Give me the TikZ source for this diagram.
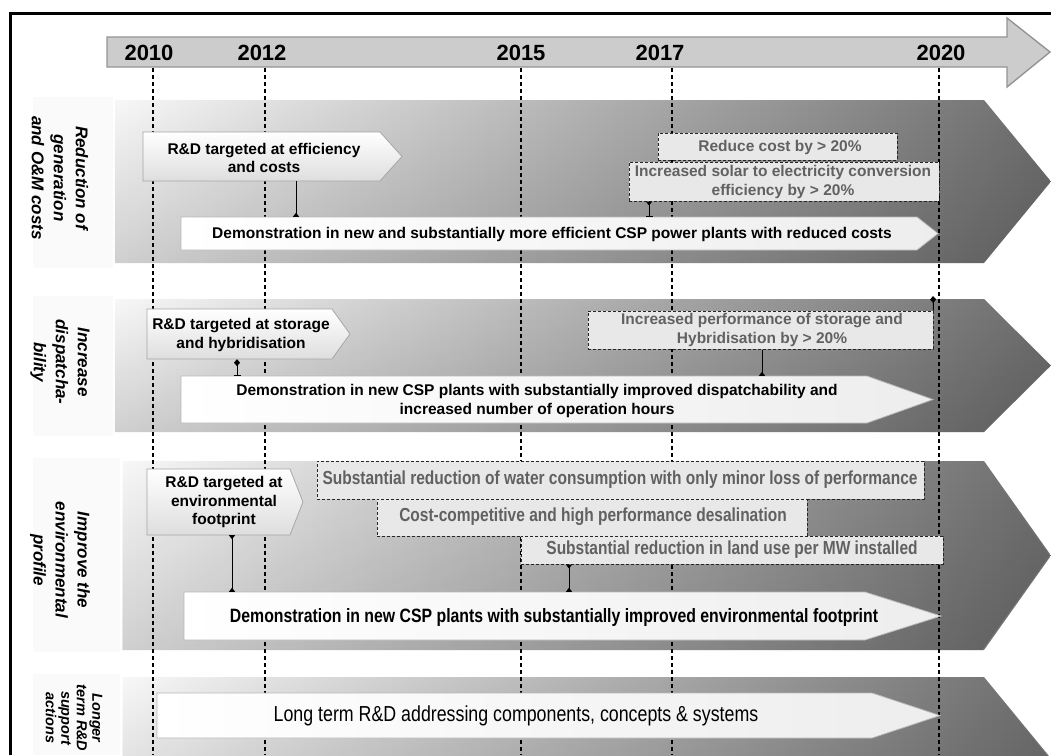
\documentclass[tikz,border=0pt]{standalone}
\usepackage{fontspec}
\setmainfont{Liberation Sans}
\newfontfamily\narrowsf[FakeStretch=0.82]{Liberation Sans}
\usetikzlibrary{arrows.meta,fadings,fit}

% pentagon arrow: name, style, left, top, body end, tip x, bottom
\newcommand\shapedarrow[7]{%
  \path[#2] (#3,#4) -- (#5,#4) -- (#6,{(#4+#7)/2}) -- (#5,#7) -- (#3,#7) -- cycle;
  \node[fit={(#3,#4) (#5,#7)},inner sep=0pt] (#1) {};}

\begin{document}
\begin{tikzpicture}[x=1pt,y=-1pt,
  frame/.style={line width=3pt,black},
  lblbg/.style={fill=black!2},
  band/.style={left color=black!3,middle color=black!19,right color=black!57,
    postaction={fill=black,fill opacity=0.16,path fading=north}},
  timeline/.style={fill=black!20,draw=black!42,line width=1.4pt},
  yearlbl/.style={font=\bfseries\fontsize{22}{24}\selectfont,inner sep=0pt},
  yearline/.style={black,line width=1.3pt,dash pattern=on 4pt off 3pt},
  rdbox/.style={top color=white,bottom color=black!13,draw=black!35,line width=0.8pt},
  demobox/.style={left color=white,right color=black!7,draw=black!28,line width=0.8pt},
  goalbox/.style={draw=black!85,fill=black!9,line width=1pt,dash pattern=on 3pt off 2pt,inner sep=0pt},
  rdtext/.style={font=\bfseries\fontsize{15.5}{18.5}\selectfont,align=center,inner sep=0pt},
  goaltext/.style={font=\bfseries\fontsize{15.5}{18.5}\selectfont,align=center,inner sep=0pt,text=black!62},
  goalnarrow/.style={font=\narrowsf\bfseries\fontsize{18.9}{20}\selectfont,inner sep=0pt,text=black!62},
  demotext/.style={font=\bfseries\fontsize{15.5}{18.5}\selectfont,align=center,inner sep=0pt},
  demonarrow/.style={font=\narrowsf\bfseries\fontsize{19.3}{22}\selectfont,inner sep=0pt},
  longtext/.style={font=\narrowsf\fontsize{21.7}{24}\selectfont,inner sep=0pt},
  rowlbl/.style={font=\bfseries\itshape\fontsize{17}{22}\selectfont,align=center,rotate=-90,inner sep=0pt},
  conn/.style={black,line width=1pt},
  tri/.style={-{Triangle[reversed,width=6pt,length=4pt]}},
]
\useasboundingbox (0,0) rectangle (1051,755);
\begin{scope}
\clip (0,0) rectangle (1051,755);

% frame
\draw[frame] (10,755) -- (10,13) -- (1051,13);

% pale panels behind the row titles
\fill[lblbg] (33,97) rectangle (113,268);
\fill[lblbg] (33,296) rectangle (113,436);
\fill[lblbg] (33,458) rectangle (120,652);
\fill[lblbg] (33,674) rectangle (120,755);

% row bands
\shapedarrow{band1}{band}{115}{100}{984}{1051}{263}
\shapedarrow{band2}{band}{115}{299}{984}{1051}{432}
\shapedarrow{band3}{band}{123}{461}{984}{1051}{650}
\shapedarrow{band4}{band}{123}{677}{984}{1051}{840}

% time axis
\path[timeline] (107,37) -- (1007,37) -- (1007,18) -- (1050,52) -- (1007,87) -- (1007,67) -- (107,67) -- cycle;
\node[yearlbl] (y2010) at (149,53) {2010};
\node[yearlbl] (y2012) at (262,53) {2012};
\node[yearlbl] (y2015) at (521,53) {2015};
\node[yearlbl] (y2017) at (660,53) {2017};
\node[yearlbl] (y2020) at (941,53) {2020};

\coordinate (base) at (0,755);
\coordinate (t2010) at (153,68);
\coordinate (t2012) at (265,68);
\coordinate (t2015) at (521,68);
\coordinate (t2017) at (672,68);
\coordinate (t2020) at (939,68);
\foreach \t in {t2010,t2012,t2015,t2017,t2020}
  \draw[yearline] (\t) -- (\t |- base);

% row 1: generation and O&M costs
\shapedarrow{rd1}{rdbox}{143}{132}{380}{402}{181}
\node[goalbox,fit={(658,133) (897,160)}] (g1) {};
\node[goalbox,fit={(629,162) (939,201)}] (g2) {};
\shapedarrow{demo1}{demobox}{181}{217}{917}{938}{250}
\node[rdtext] (rd1-t) at (264,158) {R\&D targeted at efficiency\\and costs};
\node[goaltext] (g1-t) at (780,147) {Reduce cost by > 20\%};
\node[goaltext] (g2-t) at (783,182) {Increased solar to electricity conversion\\efficiency by > 20\%};
\node[demotext] (demo1-t) at (552,234) {Demonstration in new and substantially more efficient CSP power plants with reduced costs};

% row 2: dispatchability
\shapedarrow{rd2}{rdbox}{147}{309}{332}{350}{359}
\node[goalbox,fit={(588,311) (933,349)}] (g3) {};
\shapedarrow{demo2}{demobox}{181}{376}{867}{933}{423}
\node[rdtext] (rd2-t) at (241,335) {R\&D targeted at storage\\and hybridisation};
\node[goaltext] (g3-t) at (762,330) {Increased performance of storage and\\Hybridisation by > 20\%};
\node[demotext] (demo2-t) at (537,401) {Demonstration in new CSP plants with substantially improved dispatchability and\\increased number of operation hours};

% row 3: environmental profile
\shapedarrow{rd3}{rdbox}{147}{469}{290}{303}{535}
\node[goalbox,fit={(317,461) (924,499)}] (g4) {};
\node[goalbox,fit={(377,499) (807,536)}] (g5) {};
\node[goalbox,fit={(521,536) (943,564)}] (g6) {};
\shapedarrow{demo3}{demobox}{184}{592}{865}{941}{640}
\node[rdtext] (rd3-t) at (224,502) {R\&D targeted at\\environmental\\footprint};
\node[goalnarrow] (g4-t) at (620,480) {Substantial reduction of water consumption with only minor loss of performance};
\node[goalnarrow] (g5-t) at (593,517) {Cost-competitive and high performance desalination};
\node[goalnarrow] (g6-t) at (732,550) {Substantial reduction in land use per MW installed};
\node[demonarrow] (demo3-t) at (554,617) {Demonstration in new CSP plants with substantially improved environmental footprint};

% row 4: longer term R&D
\shapedarrow{demo4}{demobox}{157}{693}{872}{940}{738}
\node[longtext] (demo4-t) at (516,716) {Long term R\&D addressing components, concepts \& systems};

% row titles
\node[rowlbl] (lbl1) at (60,178) {Reduction of\\generation\\and O\&M costs};
\node[rowlbl] (lbl2) at (60,362) {Increase\\dispatcha-\\bility};
\node[rowlbl] (lbl3) at (60,560) {Improve the\\environmental\\profile};
\node[rowlbl,font=\bfseries\itshape\fontsize{14.5}{15.5}\selectfont] (lbl4) at (74,718) {Longer\\term R\&D\\support\\actions};

% links between R&D, targets and demonstrations
\coordinate (k1) at (296,0);
\coordinate (k2) at (649,0);
\coordinate (k3) at (237,0);
\coordinate (k4) at (762,0);
\coordinate (k5) at (232,0);
\coordinate (k6) at (569,0);
\coordinate (dm) at (933,296);
\draw[conn,tri] (rd1.south -| k1) -- (demo1.north -| k1);
\draw[conn,{Triangle[reversed,width=6pt,length=4pt]}-{Bar[width=7pt]}] (g2.south -| k2) -- (demo1.north -| k2);
\draw[conn,{Diamond[width=6pt,length=7pt]}-{Bar[width=7pt]}] (rd2.south -| k3) -- (demo2.north -| k3);
\draw[conn,tri] (g3.south -| k4) -- (demo2.north -| k4);
\draw[conn,{Diamond[width=6pt,length=7pt]}-] (dm) -- (g3.north east);
\draw[conn,{Triangle[reversed,width=6pt,length=4pt]}-{Triangle[reversed,width=6pt,length=4pt]}] (rd3.south -| k5) -- (demo3.north -| k5);
\draw[conn,{Triangle[reversed,width=6pt,length=4pt]}-{Triangle[reversed,width=6pt,length=4pt]}] (g6.south -| k6) -- (demo3.north -| k6);
\end{scope}
\end{tikzpicture}
\end{document}
